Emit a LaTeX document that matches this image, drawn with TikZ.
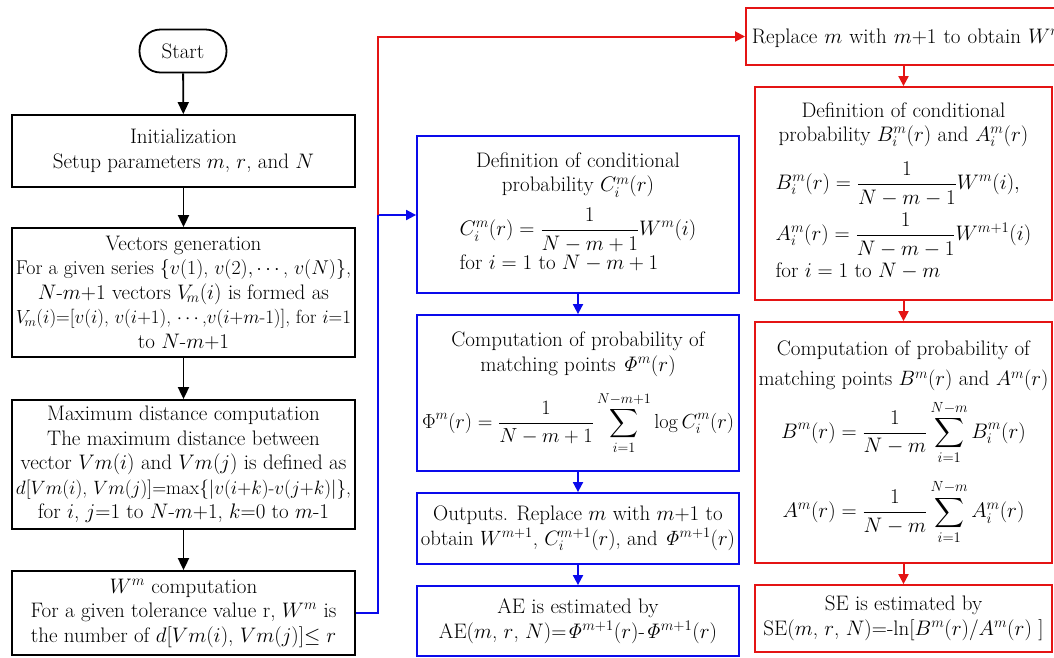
\RequirePackage{fix-cm}
\documentclass[tikz,border=0pt]{standalone}
\usepackage{amsmath}
\usepackage{graphicx}
\usetikzlibrary{arrows.meta}
\definecolor{bblue}{RGB}{10,10,235}
\definecolor{rred}{RGB}{228,20,20}
\newsavebox\fitbox
\newcommand{\maxw}[2]{\sbox\fitbox{#2}\ifdim\wd\fitbox>#1\relax\resizebox{#1}{!}{\usebox\fitbox}\else\usebox\fitbox\fi}
\begin{document}
\begin{tikzpicture}[x=1pt,y=-1pt,
  bx/.style={draw, line width=1.8pt, align=center, inner sep=1pt,
    font=\fontsize{21}{24.5}\selectfont},
  kbox/.style={bx, draw=black, minimum width=343pt},
  bbox/.style={bx, draw=bblue, minimum width=322pt},
  rbox/.style={bx, draw=rred, minimum width=297pt},
  karr/.style={line width=1.8pt, -{Triangle[length=12pt,width=11pt]}},
  barr/.style={line width=1.8pt, color=bblue, -{Triangle[length=10pt,width=10pt]}},
  rarr/.style={line width=2pt, color=rred, -{Triangle[length=10pt,width=10pt]}}]
\useasboundingbox (0,0) rectangle (1054,657);
\clip (0,0) rectangle (1054,657);
% left column
\node[bx, draw=black, rounded corners=21pt, minimum width=87pt, minimum height=43pt] (start) at (183,51) {Start};
\node[kbox, minimum height=72pt] (init) at (183.5,151) {Initialization\\ Setup parameters $m$, $r$, and $N$};
\node[kbox, minimum height=129pt] (vec) at (183.5,292.5) {Vectors generation\\
\maxw{335pt}{For a given series $\{v(1)$, $v(2),\cdots$, $v(N)\}$,}\\
\maxw{335pt}{$N$-$m$+1 vectors $V_{\!m}(i)$ is formed as}\\
\maxw{335pt}{$V_{\!m}(i)$=[$v(i)$, $v(i$+1), $\cdots$,$v(i$+$m$-1)], for $i$=1}\\
to $N$-$m$+1};
\node[kbox, minimum height=129pt] (maxd) at (183.5,464.5) {Maximum distance computation\\
The maximum distance between\\
\maxw{335pt}{vector $Vm(i)$ and $Vm(j)$ is defined as}\\
\maxw{335pt}{$d$[$Vm(i)$, $Vm(j)$]=max\{$|v(i$+$k$)-$v(j$+$k$)$|$\},}\\
\maxw{335pt}{for $i$, $j$=1 to $N$-$m$+1, $k$=0 to $m$-1}};
\node[kbox, minimum height=84pt] (wm) at (183.5,613) {$W^{m}$ computation\\
\maxw{335pt}{For a given tolerance value r, $W^{m}$ is}\\
\maxw{335pt}{the number of $d$[$Vm(i)$, $Vm(j)$]$\leq r$}};
% blue column
\node[bbox, minimum height=157pt] (defc) at (578,214.5) {Definition of conditional\\
probability $C_i^{m}(r)$\\[10pt]
\begin{tabular}{@{}l@{}}
$\displaystyle C_i^{m}(r)=\frac{1}{N-m+1}W^{m}(i)$\\
for $i=1$ to $N-m+1$
\end{tabular}};
\node[bbox, minimum height=156pt] (phi) at (578,393) {Computation of probability of\\
matching points $\mathit{\Phi}^{m}(r)$\\[14pt]
\maxw{312pt}{$\displaystyle \Phi^{m}(r)=\frac{1}{N-m+1}\sum_{i=1}^{N-m+1}\log C_i^{m}(r)$}};
\node[bbox, minimum height=71pt] (outp) at (578,528.5) {\maxw{314pt}{Outputs. Replace $m$ with $m$+1 to}\\
\maxw{314pt}{obtain $W^{m+1}$, $C_i^{m+1}(r)$, and $\mathit{\Phi}^{m+1}(r)$}};
\node[bbox, minimum height=70pt] (ae) at (578,621) {AE is estimated by\\
\maxw{314pt}{AE($m$, $r$, $N$)=$\mathit{\Phi}^{m+1}(r)$-$\mathit{\Phi}^{m+1}(r)$}};
% red column
\node[bx, draw=rred, anchor=west, minimum height=57pt, text width=340pt, align=left, inner xsep=6pt] (top) at (745,36.5) {Replace $m$ with $m$+1 to obtain $W^{m+1}$};
\node[rbox, minimum height=213pt] (defb) at (903.5,193.5) {Definition of conditional\\
\maxw{290pt}{probability $B_i^{m}(r)$ and $A_i^{m}(r)$}\\[14pt]
\begin{tabular}{@{}l@{}}
$\displaystyle B_i^{m}(r)=\frac{1}{N-m-1}W^{m}(i),$\\[16pt]
$\displaystyle A_i^{m}(r)=\frac{1}{N-m-1}W^{m+1}(i)$\\[12pt]
for $i=1$ to $N-m$
\end{tabular}};
\node[rbox, minimum height=241pt] (compb) at (903.5,442.5) {Computation of probability of\\[6pt]
\maxw{290pt}{matching points $B^{m}(r)$ and $A^{m}(r)$}\\[8pt]
$\displaystyle B^{m}(r)=\frac{1}{N-m}\sum_{i=1}^{N-m}B_i^{m}(r)$\\[14pt]
$\displaystyle A^{m}(r)=\frac{1}{N-m}\sum_{i=1}^{N-m}A_i^{m}(r)$};
\node[rbox, minimum height=67pt] (se) at (903.5,618.5) {SE is estimated by\\
\maxw{290pt}{SE($m$, $r$, $N$)=-ln[$B^{m}(r)$/$A^{m}(r)$ ]}};
% connectors
\draw[karr] (start) -- (init);
\draw[karr] (init) -- (vec);
\draw[karr] (vec) -- (maxd);
\draw[karr] (maxd) -- (wm);
\coordinate (jn) at (378,215);
\draw[line width=1.8pt, draw=bblue] (wm.east) -| (jn);
\draw[barr] (jn) -- (defc.west |- jn);
\draw[barr] (defc) -- (phi);
\draw[barr] (phi) -- (outp);
\draw[barr] (outp) -- (ae);
\draw[rarr] (jn) |- (top.west);
\draw[rarr] (defb.north |- top.south) -- (defb.north);
\draw[rarr] (defb) -- (compb);
\draw[rarr] (compb) -- (se);
\end{tikzpicture}
\end{document}
